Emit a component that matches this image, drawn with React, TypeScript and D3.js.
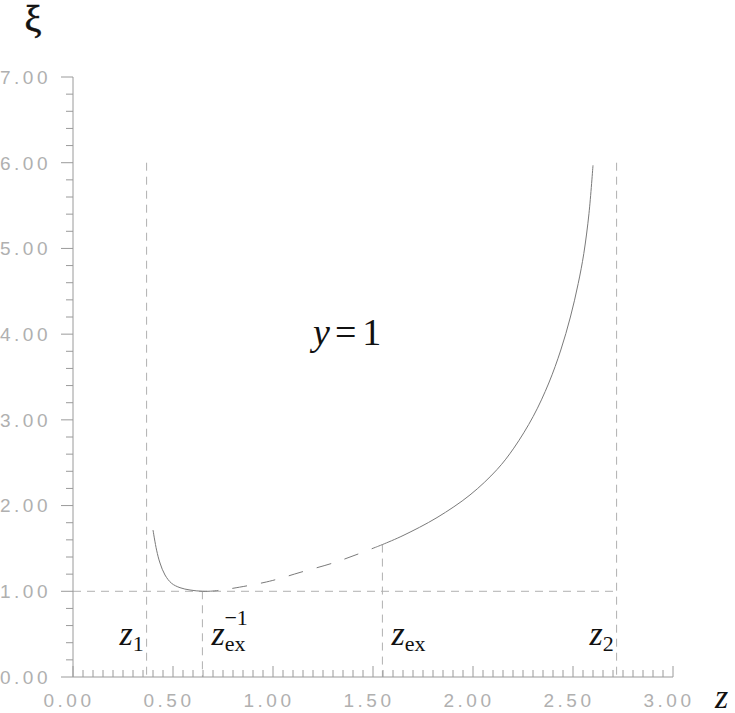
import React from "react";
import { scaleLinear, line, curveCatmullRom, range, format } from "d3";

// curve xi(z) for y = 1
const leftZ = [0.4, 0.418, 0.435, 0.46, 0.493, 0.535, 0.585, 0.647, 0.7, 0.727];
const leftXi = [1.715, 1.48, 1.33, 1.19, 1.093, 1.042, 1.015, 1.0, 1.003, 1.01];
const dashZ = [0.727, 0.8, 0.95, 1.02, 1.135, 1.3, 1.42, 1.52];
const dashXi = [1.01, 1.035, 1.1, 1.14, 1.22, 1.33, 1.43, 1.52];
const rightZ = [1.52, 1.547, 1.65, 1.82, 1.985, 2.12, 2.204, 2.301, 2.379, 2.439, 2.487, 2.526, 2.554, 2.58, 2.6];
const rightXi = [1.52, 1.545, 1.65, 1.86, 2.124, 2.42, 2.67, 3.04, 3.43, 3.815, 4.2, 4.59, 4.94, 5.41, 5.97];

// special points on the z axis
const markSub = ["1", "ex", "ex", "2"];
const markSup = ["", "\u22121", "", ""];
const markZ = [0.368, 0.647, 1.547, 2.718];
const markTop = [6, 1, 1.545, 6];

const xTicks = [0, 0.5, 1, 1.5, 2, 2.5, 3];
const yTicks = [0, 1, 2, 3, 4, 5, 6, 7];

const W = 735;
const H = 713;

const App = () => {
  const x = scaleLinear().domain([0, 3]).range([73, 673]);
  const y = scaleLinear().domain([0, 7]).range([677, 77]);
  const fmt = format(".2f");

  const path = (zs: number[], xs: number[]) =>
    line<number>()
      .x((d) => x(zs[d]))
      .y((d) => y(xs[d]))
      .curve(curveCatmullRom.alpha(0.5))(range(zs.length)) || "";

  const minorX = range(0, 3.0001, 0.05);
  const minorY = range(0, 7.0001, 0.2);
  const axisCol = "#9a9a9a";
  const labelCol = "#b0b0b0";
  const refCol = "#b0b0b0";
  const curveCol = "#7a7a7a";
  const serif = "'Liberation Serif', 'DejaVu Serif', serif";
  const sans = "'Liberation Sans', Arial, sans-serif";

  return (
    <svg
      width={W}
      height={H}
      style={{ position: "absolute", left: 0, top: 0, background: "#fff" }}
    >
      {/* reference lines */}
      <line
        x1={x(0)}
        x2={x(markZ[3])}
        y1={y(1)}
        y2={y(1)}
        stroke={refCol}
        strokeDasharray="8,6"
      />
      {markZ.map((z, i) => (
        <line
          key={"v" + i}
          x1={x(z)}
          x2={x(z)}
          y1={y(markTop[i])}
          y2={y(0)}
          stroke={refCol}
          strokeDasharray="8,6"
        />
      ))}

      {/* axes */}
      <line x1={x(0)} x2={x(3)} y1={y(0)} y2={y(0)} stroke={axisCol} />
      <line x1={x(0)} x2={x(0)} y1={y(0)} y2={y(7)} stroke={axisCol} />
      {minorX.map((t, i) => (
        <line
          key={"xt" + i}
          x1={x(t)}
          x2={x(t)}
          y1={y(0)}
          y2={y(0) - (i % 10 === 0 ? 11 : 7)}
          stroke={axisCol}
        />
      ))}
      {minorY.map((t, i) => (
        <line
          key={"yt" + i}
          x1={x(0)}
          x2={x(0) - (i % 5 === 0 ? 12 : 7)}
          y1={y(t)}
          y2={y(t)}
          stroke={axisCol}
        />
      ))}
      {xTicks.map((t) => (
        <text
          key={"xl" + t}
          x={x(t) - 4}
          y={707}
          textAnchor="middle"
          fontFamily={sans}
          fontSize={19}
          letterSpacing={3.5}
          fill={labelCol}
        >
          {fmt(t)}
        </text>
      ))}
      {yTicks.map((t) => (
        <text
          key={"yl" + t}
          x={51}
          y={y(t)}
          dy="0.36em"
          textAnchor="end"
          fontFamily={sans}
          fontSize={19}
          letterSpacing={3.5}
          fill={labelCol}
        >
          {fmt(t)}
        </text>
      ))}

      {/* curve */}
      <path d={path(leftZ, leftXi)} fill="none" stroke={curveCol} strokeWidth={1} />
      <path
        d={path(dashZ, dashXi)}
        fill="none"
        stroke={curveCol}
        strokeWidth={1}
        strokeDasharray="15,14"
        strokeDashoffset={15}
      />
      <path d={path(rightZ, rightXi)} fill="none" stroke={curveCol} strokeWidth={1} />

      {/* marker labels */}
      {markZ.map((z, i) => {
        const left = i === 0 || i === 3;
        const px = left ? x(z) - 27 : x(z) + 9;
        return (
          <text key={"ml" + i} x={px} y={645} fontFamily={serif} fontSize={34} fill="#111">
            <tspan fontStyle="italic">z</tspan>
            <tspan fontSize={22} dy={6}>
              {markSub[i]}
            </tspan>
            {markSup[i] && (
              <tspan fontSize={22} dx={-21} dy={-26}>
                {markSup[i]}
              </tspan>
            )}
          </text>
        );
      })}

      {/* y = 1 */}
      <text x={x(1.2)} y={y(3.875)} fontFamily={serif} fontSize={38} fill="#111">
        <tspan fontStyle="italic">y</tspan>
        <tspan dx={5}>=</tspan>
        <tspan dx={6}>1</tspan>
      </text>

      {/* axis titles */}
      <text
        x={33}
        y={32}
        textAnchor="middle"
        fontFamily={serif}
        fontSize={38}
        fill="#111"
        stroke="#111"
        strokeWidth={0.6}
      >
        ξ
      </text>
      <text x={715} y={708} fontFamily={serif} fontStyle="italic" fontSize={34} fill="#111">
        z
      </text>
    </svg>
  );
};

export default App;
